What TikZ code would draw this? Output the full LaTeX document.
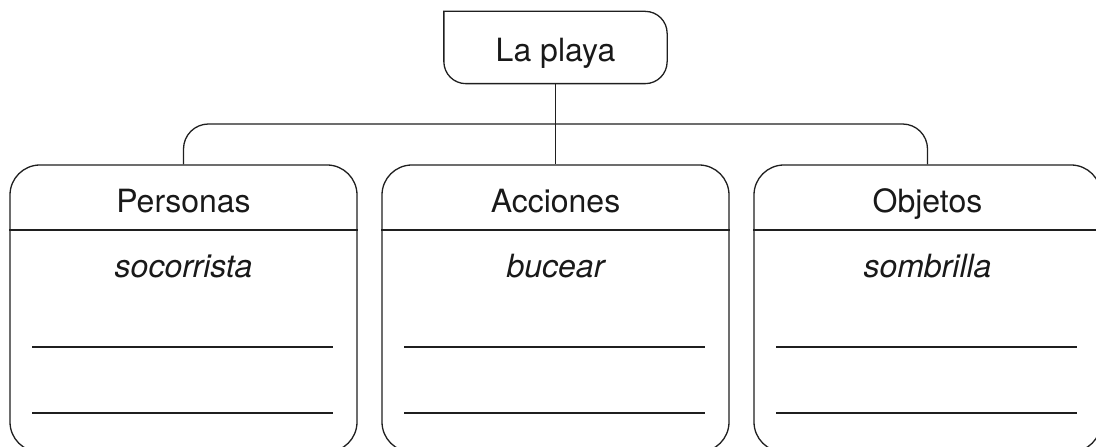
\documentclass[tikz,border=0pt]{standalone}
\usepackage{fontspec}
\setmainfont{TeX Gyre Heros}
\begin{document}
\begin{tikzpicture}[x=1pt,y=1pt,line width=1.3pt,color=black!88,
  txt/.style={font=\fontsize{32}{38}\selectfont,inner sep=0pt,anchor=base,text=black!90},
  itm/.style={txt,font=\fontsize{32}{38}\selectfont\itshape},
  catbox/.style={draw,rounded corners=30pt,minimum width=347pt,minimum height=287pt,inner sep=0pt},
  topbox/.style={minimum width=222pt,minimum height=71pt,inner sep=0pt}]
\useasboundingbox (0,0) rectangle (1096,447);
\clip (0,0) rectangle (1096,447);
% top box
\node[topbox] (top) at (555.5,399.5) {};
\node[txt] (toptxt) at (555.5,385) {La playa};
\draw (top.north west) -- ([xshift=-22pt]top.north east)
  arc[start angle=90,end angle=0,radius=22pt]
  -- ([yshift=22pt]top.south east)
  arc[start angle=0,end angle=-90,radius=22pt]
  -- ([xshift=22pt]top.south west)
  arc[start angle=270,end angle=180,radius=22pt] -- cycle;
% category boxes
\node[catbox] (b1) at (183.5,138.5) {};
\node[catbox] (b2) at (555.5,138.5) {};
\node[catbox] (b3) at (927.5,138.5) {};
\coordinate (div) at (0,217);
\coordinate (l1) at (0,100);
\coordinate (l2) at (0,34);
\coordinate (hb) at (0,234);
\coordinate (ib) at (0,169);
\coordinate (hz) at (0,323);
\foreach \b/\h/\i in {b1/Personas/socorrista, b2/Acciones/bucear, b3/Objetos/sombrilla}{
  \draw (\b.west |- div) -- (\b.east |- div);
  \node[txt] (\b h) at (\b.center |- hb) {\h};
  \node[itm] (\b i) at (\b.center |- ib) {\i};
  \draw ([xshift=23pt]\b.west |- l1) -- ([xshift=-25pt]\b.east |- l1);
  \draw ([xshift=23pt]\b.west |- l2) -- ([xshift=-25pt]\b.east |- l2);
}
% connectors
\draw (top.south) -- (b2.north);
\draw[rounded corners=25pt] (b1.north) -- (b1.north |- hz) -- (b3.north |- hz) -- (b3.north);
\end{tikzpicture}
\end{document}
